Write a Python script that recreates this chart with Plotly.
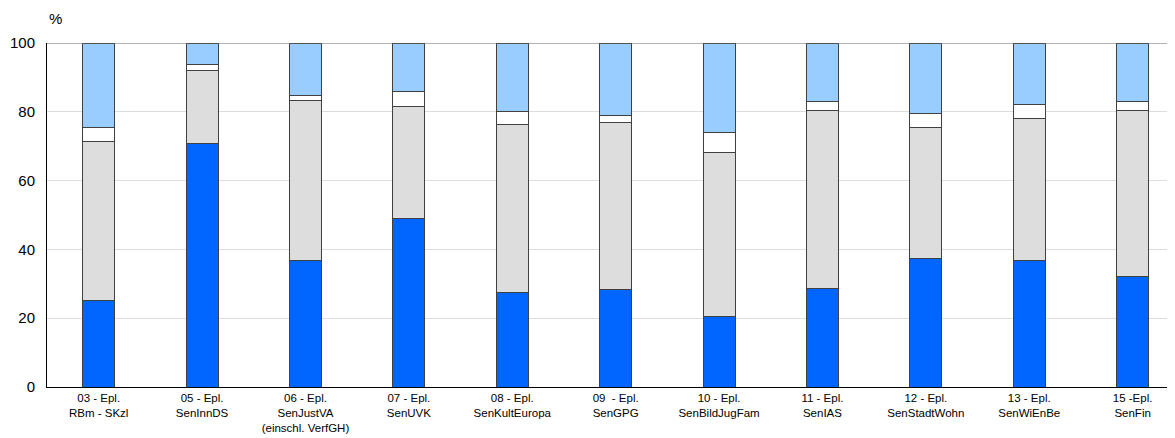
import plotly.graph_objects as go

categories = [
    "03 - Epl.<br>RBm - SKzl",
    "05 - Epl.<br>SenInnDS",
    "06 - Epl.<br>SenJustVA<br>(einschl. VerfGH)",
    "07 - Epl.<br>SenUVK",
    "08 - Epl.<br>SenKultEuropa",
    "09  - Epl.<br>SenGPG",
    "10 - Epl.<br>SenBildJugFam",
    "11 - Epl.<br>SenIAS",
    "12 - Epl.<br>SenStadtWohn",
    "13 - Epl.<br>SenWiEnBe",
    "15 -Epl.<br>SenFin",
]

# cumulative boundaries (percent)
blue_top = [25.2, 70.9, 36.9, 48.9, 27.6, 28.4, 20.5, 28.5, 37.3, 36.9, 32.1]
gray_top = [71.3, 92.1, 83.4, 81.4, 76.2, 77.0, 68.3, 80.5, 75.3, 78.0, 80.5]
white_top = [75.5, 93.7, 84.8, 85.9, 80.2, 78.8, 74.1, 82.9, 79.5, 82.2, 82.9]

s_blue = blue_top
s_gray = [round(g - b, 1) for g, b in zip(gray_top, blue_top)]
s_white = [round(w - g, 1) for w, g in zip(white_top, gray_top)]
s_light = [round(100 - w, 1) for w in white_top]

series = [
    ("A", s_blue, "#0066FF"),
    ("B", s_gray, "#DDDDDD"),
    ("C", s_white, "#FFFFFF"),
    ("D", s_light, "#99CCFF"),
]

fig = go.Figure()
for name, vals, col in series:
    fig.add_trace(go.Bar(
        x=categories, y=vals, name=name, width=0.31,
        marker=dict(color=col, line=dict(color="#404040", width=1)),
    ))

fig.update_layout(
    barmode="stack",
    width=1167, height=430,
    margin=dict(l=39, r=0, t=35, b=51, autoexpand=False),
    plot_bgcolor="white", paper_bgcolor="white",
    showlegend=False,
    font=dict(family="Liberation Sans, Arial, sans-serif", color="black"),
    xaxis=dict(
        range=[-0.5, 10.41], showline=True, linecolor="black", linewidth=1,
        tickfont=dict(size=11.5), ticks="", showgrid=False, automargin=False,
    ),
    yaxis=dict(
        range=[0, 100], tickvals=[0, 20, 40, 60, 80, 100],
        showline=True, linecolor="black", linewidth=1,
        gridcolor="#DDDDDD", gridwidth=1, tickfont=dict(size=15),
        ticks="", zeroline=False, automargin=False, ticklabelstandoff=8,
    ),
    shapes=[dict(type="line", xref="paper", yref="y", x0=0, x1=1, y0=100, y1=100,
                 line=dict(color="#666666", width=1))],
    annotations=[dict(text="%", xref="paper", yref="paper", x=0.0, y=1.04,
                      xanchor="left", yanchor="bottom", showarrow=False,
                      font=dict(size=15))],
)

fig.write_html("out.html")
